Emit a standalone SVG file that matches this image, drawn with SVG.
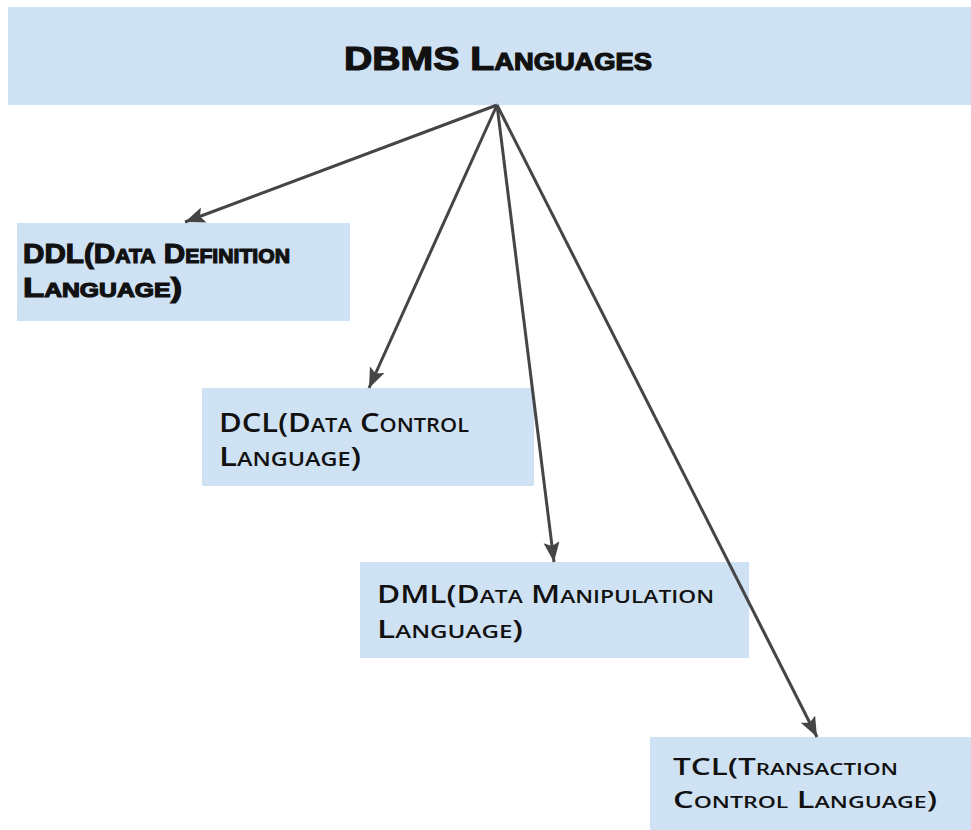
<svg xmlns="http://www.w3.org/2000/svg" width="971" height="830" viewBox="0 0 971 830">
<style>
.box{fill:#cfe2f3;}
.conn{stroke:#454545;stroke-width:3;fill:none;marker-end:url(#ah);}
.t{font-family:"Liberation Sans",Arial,sans-serif;font-variant:small-caps;fill:#111;}
.heavy{font-weight:700;stroke:#111;stroke-width:1.2;}
.hand{font-family:"Open Sans","Liberation Sans",sans-serif;font-weight:600;}
</style>
<defs>
<marker id="ah" markerUnits="userSpaceOnUse" markerWidth="22" markerHeight="18" refX="20" refY="8" orient="auto">
<path d="M0,0 L20,8 L0,16 L4,8 z" fill="#454545"/>
</marker>
</defs>
<rect width="971" height="830" fill="#ffffff"/>
<g id="title">
<rect class="box" x="8" y="7" width="963" height="98"/>
<text class="t heavy" x="344" y="70" font-size="33" textLength="308" lengthAdjust="spacingAndGlyphs">DBMS Languages</text>
</g>
<g id="ddl">
<rect class="box" x="17" y="223" width="333" height="98"/>
<text class="t heavy" x="23" y="263" font-size="28" textLength="267" lengthAdjust="spacingAndGlyphs">DDL(Data Definition</text>
<text class="t heavy" x="23" y="297" font-size="28" textLength="159" lengthAdjust="spacingAndGlyphs">Language)</text>
</g>
<g id="dcl">
<rect class="box" x="202" y="388" width="332" height="98"/>
<text class="t hand" x="219" y="432" font-size="27" textLength="250" lengthAdjust="spacingAndGlyphs">DCL(Data Control</text>
<text class="t hand" x="219" y="466" font-size="27" textLength="142" lengthAdjust="spacingAndGlyphs">Language)</text>
</g>
<g id="dml">
<rect class="box" x="360" y="562" width="389" height="96"/>
<text class="t hand" x="377" y="603" font-size="25" textLength="337" lengthAdjust="spacingAndGlyphs">DML(Data Manipulation</text>
<text class="t hand" x="377" y="638" font-size="25" textLength="146" lengthAdjust="spacingAndGlyphs">Language)</text>
</g>
<g id="tcl">
<rect class="box" x="650" y="737" width="321" height="93"/>
<text class="t hand" x="673" y="775" font-size="24" textLength="225" lengthAdjust="spacingAndGlyphs">TCL(Transaction</text>
<text class="t hand" x="673" y="808" font-size="24" textLength="264" lengthAdjust="spacingAndGlyphs">Control Language)</text>
</g>
<g id="connectors">
<line class="conn" x1="497" y1="105" x2="185" y2="222"/>
<line class="conn" x1="497" y1="105" x2="369" y2="388"/>
<line class="conn" x1="497" y1="105" x2="554" y2="562"/>
<line class="conn" x1="497" y1="105" x2="817" y2="737"/>
</g>
</svg>
